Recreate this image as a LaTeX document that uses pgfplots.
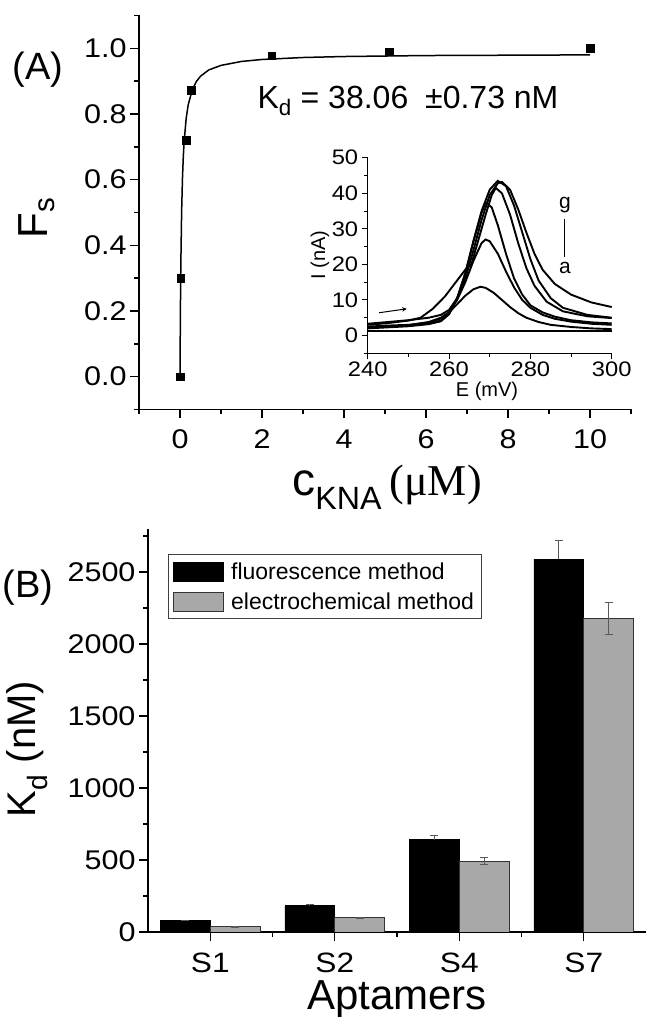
\documentclass[border=0pt]{standalone}
\usepackage{fontspec}
\setmainfont{Liberation Sans}
\newfontfamily\seriffont{Liberation Serif}
\newfontfamily\tickfont{Liberation Sans}[FakeStretch=1.13]
\usepackage{pgfplots}
\usepackage{pgfplotstable}
\pgfplotsset{compat=1.18}
\newcommand\fs[1]{\fontsize{#1bp}{#1bp}\selectfont}

% ---------- Panel A data ----------
\pgfplotstableread{
x y
0 0
0.02 0.30
0.15 0.72
0.28 0.872
2.24 0.977
5.1 0.99
10 1.0
}\pointsA
\pgfplotstableread{
x y
0 0
0.01 0.205
0.02 0.340
0.04 0.505
0.06 0.603
0.08 0.668
0.10 0.714
0.15 0.786
0.20 0.828
0.30 0.874
0.40 0.899
0.50 0.915
0.70 0.934
1.0 0.948
1.5 0.960
2.0 0.966
3.0 0.972
4.0 0.975
6.0 0.978
8.0 0.979
10.0 0.980
}\fitA
% ---------- inset curves ----------
\pgfplotstableread{
x y
240 1.3
300 1.3
}\ca
\pgfplotstableread{
x y
240 2.2
245 2.5
250 2.9
255 3.8
258 5.0
260 6.5
262 8.8
264 11.2
266 13.0
267.7 13.7
269 13.4
271 12.0
273 10.0
275 8.0
277 6.3
279 5.0
282 3.8
285 3.0
290 2.4
295 2.0
300 1.8
}\cb
\pgfplotstableread{
x y
240 2.5
245 2.8
250 3.0
255 3.6
258 4.8
260 6.5
262 10
264 15
266 21
268 26
269 27
270 26.5
272 23
274 18
276 13.5
278 10
280 7.8
283 5.8
286 4.7
290 3.9
295 3.3
300 3.0
}\cc
\pgfplotstableread{
x y
240 2.0
245 2.3
250 2.6
255 3.2
258 4.0
260 6.0
262 10.5
264 17.5
266 26.5
268 34.5
269 37.5
270.5 36
272 31
274 23
276 16
278 11.5
280 8.5
283 6.5
286 5.3
290 4.3
295 3.7
300 3.4
}\cd
\pgfplotstableread{
x y
240 3.0
245 3.5
250 4.2
253 5.0
256 7.5
259 11
262 15.5
264 18.5
265.5 20
267 26
269 34
270.5 39.5
271.5 41.5
273 40
275 34
277 26
279 19
281 14
284 9.5
288 6.8
294 5.4
300 4.9
}\ce
\pgfplotstableread{
x y
240 2.2
245 2.5
250 2.8
255 3.3
258 4.2
260 6.0
262 10.5
264 17.5
266 26.5
268 35
270 41
272 43.5
274 42
276 36.5
278 29
280 21.5
282 15.5
285 10.5
288 7.8
294 5.8
300 5.0
}\cf
\pgfplotstableread{
x y
240 3.3
245 3.8
250 4.3
255 5.0
258 5.8
260 7.2
262 10.5
264 16
266 24
268 32.5
270 39.5
272 42.8
273 43.2
275 41
277 35.5
279 29
281 23
283 18.5
286 14.5
290 11.5
295 9.3
300 8.0
}\cg
% ---------- Panel B data (bars placed at category -0.2 / +0.2) ----------
\pgfplotstableread{
xf fl flerr xe el elerr
-0.2 78 3 0.2 36 2
0.8 182 7 1.2 100 3
1.8 640 28 2.2 491 24
2.8 2590 128 3.2 2178 110
}\dataB

\pgfplotsset{
  common/.style={
    scale only axis, anchor=south west,
    axis x line*=bottom, axis y line*=left,
    tick align=outside,
    axis line style={line width=1.6bp, black},
    tick style={line width=1.4bp, black},
    major tick length=9bp, minor tick length=5bp,
    /pgf/number format/assume math mode=true,
    /pgf/number format/1000 sep={},
  },
  swatch/.style={legend image code/.code={\draw[##1] (0bp,-9.5bp) rectangle (50bp,9.5bp);}},
}

\begin{document}
\begin{tikzpicture}[x=1bp,y=1bp]
\path[use as bounding box] (0,0) rectangle (646,1017);

% ================= Panel A =================
\begin{axis}[common,
  at={(139bp,607.5bp)}, width=492bp, height=394bp,
  xmin=-1, xmax=11, ymin=-0.1, ymax=1.1,
  xtick={0,2,...,10}, minor xtick={-1,1,...,11},
  ytick={0,0.2,...,1.0}, minor ytick={-0.1,0.1,...,1.1},
  tick label style={font=\tickfont\fs{27}},
  xticklabel style={yshift=-8bp},
  yticklabel style={/pgf/number format/.cd, fixed, fixed zerofill, precision=1},
  clip=false,
]
\addplot[black, line width=1.5bp, no marks] table {\fitA};
\addplot[only marks, mark=square*, mark size=3.8bp, black] table {\pointsA};
\node[font=\fs{32}] at (axis cs:5.56,0.84) {K\textsubscript{d} = 38.06\hspace{0.25em} ±0.73 nM};
\end{axis}

% ================= Inset =================
\begin{axis}[common,
  at={(367.7bp,663.7bp)}, width=244bp, height=195.6bp,
  xmin=240, xmax=300, ymin=-5, ymax=50,
  xtick={240,260,280,300}, minor xtick={250,270,290},
  ytick={0,10,...,50}, minor ytick={-5,5,...,45},
  major tick length=6bp, minor tick length=3.5bp,
  axis line style={line width=1.2bp},
  tick style={line width=1bp},
  tick label style={font=\tickfont\fs{21}},
  xticklabel style={yshift=1bp},
  clip=false,
]
\addplot[black, line width=1.9bp, no marks] table {\ca};
\addplot[black, line width=1.9bp, no marks] table {\cb};
\addplot[black, line width=1.9bp, no marks] table {\cc};
\addplot[black, line width=1.9bp, no marks] table {\cd};
\addplot[black, line width=1.9bp, no marks] table {\ce};
\addplot[black, line width=1.9bp, no marks] table {\cf};
\addplot[black, line width=1.9bp, no marks] table {\cg};
\draw[->, line width=1bp, >=stealth] (axis cs:242.8,6.4) -- (axis cs:249.6,7.5);
\node[font=\fs{21}] at (axis cs:288.5,36.6) {g};
\draw[line width=1bp] (axis cs:288.5,32.7) -- (axis cs:288.5,22.0);
\node[font=\fs{21}] at (axis cs:288.5,19.0) {a};
\end{axis}

% ================= Panel B =================
\begin{axis}[common,
  at={(148bp,85bp)}, width=498bp, height=403bp,
  xmin=-0.5, xmax=3.5, ymin=0, ymax=2800,
  xtick={0,1,2,3}, xticklabels={S1,S2,S4,S7}, minor xtick={0.5,1.5,2.5},
  ytick={0,500,...,2500}, minor ytick={250,750,...,2750},
  tick label style={font=\tickfont\fs{27}},
  xticklabel style={font=\tickfont\fs{28}, yshift=-8bp},
  legend style={at={(axis description cs:0.040,0.938)}, anchor=north west,
    draw=black!75, line width=0.8bp, font=\fs{23}, inner xsep=5bp, inner ysep=6bp,
    row sep=8bp, cells={anchor=west},
    /tikz/every odd column/.append style={column sep=5bp}},
]
\addplot[ybar, bar width=0.4, bar shift=0, fill=black, draw=black, line width=0.8bp, swatch,
  error bars/.cd, y dir=plus, y explicit,
  error bar style={line width=1bp, black!65},
  error mark options={rotate=90, black!65, mark size=4bp, line width=1bp}]
  table[x=xf, y=fl, y error=flerr] {\dataB};
\addlegendentry{fluorescence method}
\addplot[ybar, bar width=0.4, bar shift=0, fill=black!34, draw=black!80, line width=0.8bp, swatch,
  error bars/.cd, y dir=both, y explicit,
  error bar style={line width=1bp, black!65},
  error mark options={rotate=90, black!65, mark size=4bp, line width=1bp}]
  table[x=xe, y=el, y error=elerr] {\dataB};
\addlegendentry{electrochemical method}
\end{axis}

% ================= labels =================
\node[font=\fs{38}] at (38,947) {(A)};
\node[font=\fs{42}, rotate=90] at (37,799) {F\textsubscript{s}};
\node[anchor=base] at (387,521) {\fs{46}c\textsubscript{KNA}\,{\seriffont\fs{44}(μM)}};
\node[font=\fs{20}, rotate=90] at (320,762) {I (nA)};
\node[font=\fs{20}] at (487,626) {E (mV)};
\node[font=\fs{38}] at (28,429) {(B)};
\node[font=\fs{40}, rotate=90] at (27,268) {K\textsubscript{d} (nM)};
\node[font=\fs{42}, anchor=base] at (397,7) {Aptamers};
\end{tikzpicture}
\end{document}
